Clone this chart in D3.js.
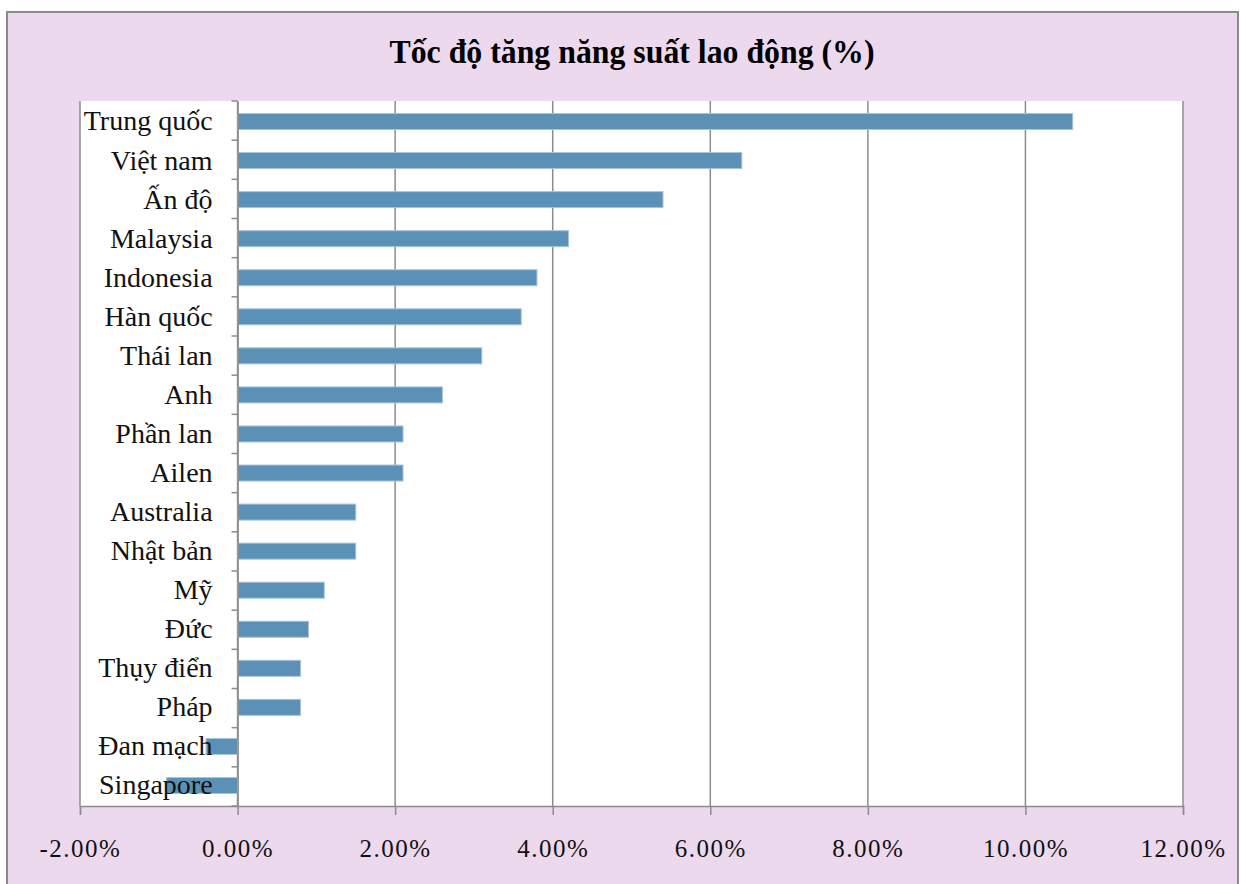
<!DOCTYPE html>
<html><head><meta charset="utf-8">
<script src="https://cdn.jsdelivr.net/npm/d3@7"></script>
<style>
html,body{margin:0;padding:0;background:#fff;}
svg{display:block;}
</style></head>
<body>
<script>
const categories = ["Trung quốc","Việt nam","Ấn độ","Malaysia","Indonesia","Hàn quốc","Thái lan","Anh","Phần lan","Ailen","Australia","Nhật bản","Mỹ","Đức","Thụy điển","Pháp","Đan mạch","Singapore"];
const values = [10.6,6.4,5.4,4.2,3.8,3.6,3.1,2.6,2.1,2.1,1.5,1.5,1.1,0.9,0.8,0.8,-0.4,-0.9];
const tickValues = [-2,0,2,4,6,8,10,12];
const title = "Tốc độ tăng năng suất lao động (%)";

const W = 1246, H = 884;
const svg = d3.select("body").append("svg").attr("width", W).attr("height", H);

// outer chart area
svg.append("rect").attr("x", 7).attr("y", 12).attr("width", 1231).attr("height", 880)
  .attr("fill", "#ecd9ee").attr("stroke", "#8a8a8a").attr("stroke-width", 2);

const plot = {left: 80, right: 1183, top: 101, bottom: 806};
svg.append("rect").attr("x", plot.left).attr("y", plot.top)
  .attr("width", plot.right - plot.left).attr("height", plot.bottom - plot.top).attr("fill", "#fff");

const x = d3.scaleLinear().domain([-2, 12]).range([plot.left, plot.right]);
const y = d3.scaleBand().domain(categories).range([plot.top, plot.bottom]).paddingInner(0.59).paddingOuter(0.32);

// gridlines
svg.append("g").selectAll("line").data(tickValues).join("line")
  .attr("x1", d => x(d)).attr("x2", d => x(d))
  .attr("y1", plot.top).attr("y2", plot.bottom)
  .attr("stroke", "#8c8c8c").attr("stroke-width", 1.5);

// bars
svg.append("g").selectAll("rect").data(values).join("rect")
  .attr("x", d => x(Math.min(0, d)))
  .attr("width", d => Math.abs(x(d) - x(0)))
  .attr("y", (d, i) => y(categories[i]))
  .attr("height", y.bandwidth())
  .attr("fill", "#5b91b7").attr("stroke", "#a9c4d8").attr("stroke-width", 1);

// x axis
const xAxis = d3.axisBottom(x).tickValues(tickValues).tickSize(9).tickPadding(24)
  .tickFormat(d => d.toFixed(2) + "%");
const gx = svg.append("g").attr("transform", `translate(0,${plot.bottom})`).call(xAxis);
gx.select(".domain").attr("stroke", "#8c8c8c").attr("stroke-width", 1.5);
gx.selectAll(".tick line").attr("stroke", "#8c8c8c").attr("stroke-width", 1.5);
gx.selectAll(".tick text").attr("fill", "#111")
  .style("font-family", "'Liberation Serif', 'DejaVu Serif', serif")
  .style("font-size", "25px").style("letter-spacing", "1.5px");

// y axis at zero
const yAxis = d3.axisLeft(y).tickSize(0).tickPadding(25);
const gy = svg.append("g").attr("transform", `translate(${x(0)},0)`).call(yAxis);
gy.select(".domain").attr("stroke", "#8c8c8c").attr("stroke-width", 1.5);
gy.selectAll(".tick text").attr("fill", "#111")
  .style("font-family", "'Liberation Serif', 'DejaVu Serif', serif")
  .style("font-size", "28px");
// category boundary ticks
const bounds = d3.range(categories.length + 1).map(i => plot.top + i * (plot.bottom - plot.top) / categories.length);
gy.append("g").selectAll("line").data(bounds).join("line")
  .attr("x1", -6).attr("x2", 0).attr("y1", d => d).attr("y2", d => d)
  .attr("stroke", "#8c8c8c").attr("stroke-width", 1.5);

// title
svg.append("text").attr("x", 632).attr("y", 63).attr("text-anchor", "middle")
  .attr("textLength", 485).attr("lengthAdjust", "spacingAndGlyphs")
  .style("font-family", "'Liberation Serif', serif").style("font-weight", "bold")
  .style("font-size", "34px").attr("fill", "#000").text(title);
</script>
</body></html>
